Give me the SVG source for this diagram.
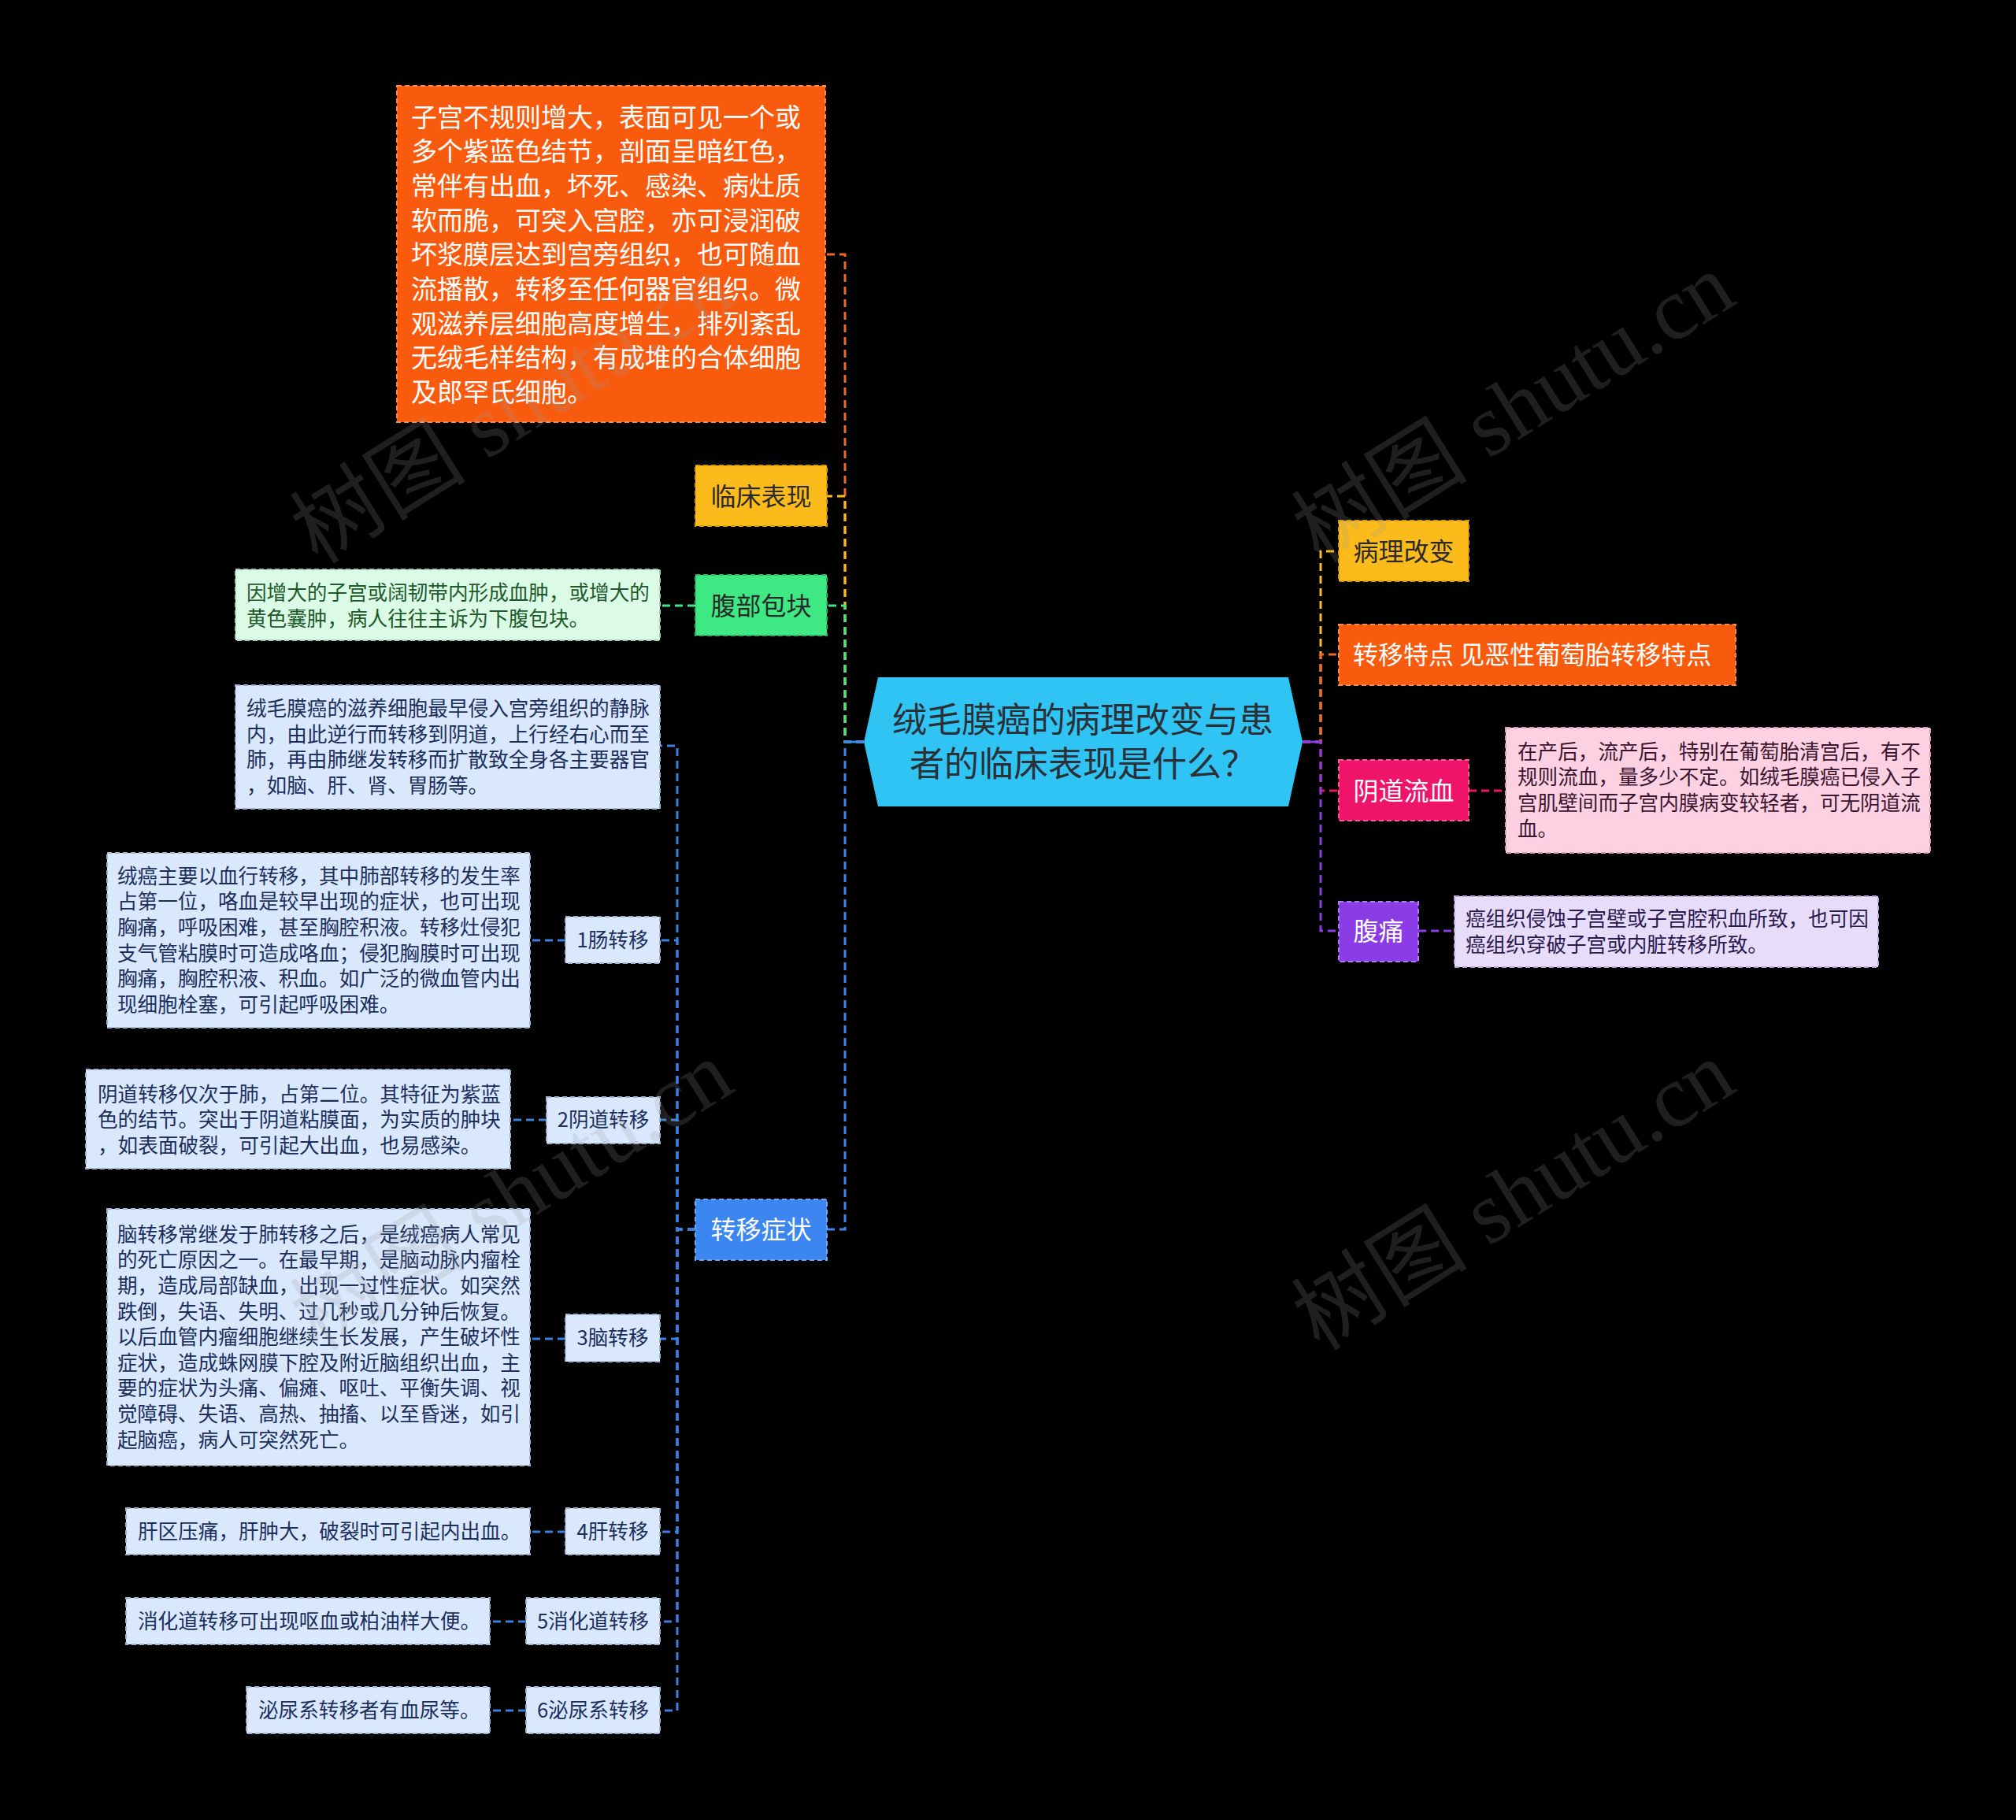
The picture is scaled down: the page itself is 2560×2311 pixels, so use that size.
<svg xmlns="http://www.w3.org/2000/svg" width="2560" height="2311" viewBox="0 0 2560 2311">
<defs>
<style>
text{font-family:"Noto Sans CJK SC","Noto Sans",sans-serif;}
.conn{fill:none;stroke-width:3;stroke-dasharray:10 6;}
.solid{fill:none;stroke-width:3;}
.box{stroke-width:2;stroke-dasharray:6 4;}
.t32{font-size:32px;}
.t26{font-size:25.6px;}
.t33{font-size:33px;fill:#ffffff;}
.center{font-size:44px;fill:#2b2f36;text-anchor:middle;}
.dark{fill:#2a2a2a;}
.white{fill:#ffffff;}
.navy{fill:#1c2f5c;}
.lb{fill:#d9e8fc;stroke:#9fb3cf;}
.wm{font-family:"Liberation Serif","Noto Sans CJK SC",serif;font-size:112px;fill:#9a9a9a;fill-opacity:0.2;text-anchor:middle;}
</style>
</defs>
<rect x="0" y="0" width="2560" height="2311" fill="#000000"/>

<g id="connectors">
  <path class="conn" stroke="#f26522" d="M1097,942 H1073 V323 H1048"/>
  <path class="conn" stroke="#fbbb1a" d="M1097,942 H1073 V630 H1050"/>
  <path class="conn" stroke="#3ee882" d="M1097,942 H1073 V769 H1050"/>
  <path class="conn" stroke="#3b86f0" d="M1097,942 H1073 V1561 H1050"/>
  <path class="solid" stroke="#3b86f0" d="M1073,942 H1097"/>
  <path class="conn" stroke="#3ee882" d="M883,769 H838"/>
  <path class="conn" stroke="#3d7fe0" d="M883,1561 H860 V947 H838"/>
  <path class="conn" stroke="#3d7fe0" d="M883,1561 H860 V1194 H838"/>
  <path class="conn" stroke="#3d7fe0" d="M883,1561 H860 V1422 H838"/>
  <path class="conn" stroke="#3d7fe0" d="M883,1561 H860 V1700 H838"/>
  <path class="conn" stroke="#3d7fe0" d="M883,1561 H860 V1945 H838"/>
  <path class="conn" stroke="#3d7fe0" d="M883,1561 H860 V2059 H838"/>
  <path class="conn" stroke="#3d7fe0" d="M883,1561 H860 V2172 H838"/>
  <path class="conn" stroke="#3d7fe0" d="M718,1194 H673"/>
  <path class="conn" stroke="#3d7fe0" d="M694,1422 H648"/>
  <path class="conn" stroke="#3d7fe0" d="M718,1700 H673"/>
  <path class="conn" stroke="#3d7fe0" d="M718,1945 H673"/>
  <path class="conn" stroke="#3d7fe0" d="M668,2059 H622"/>
  <path class="conn" stroke="#3d7fe0" d="M668,2172 H622"/>
  <path class="conn" stroke="#fbbb1a" d="M1654,942 H1677 V700 H1700"/>
  <path class="conn" stroke="#f26522" d="M1654,942 H1677 V831 H1700"/>
  <path class="conn" stroke="#f0136a" d="M1654,942 H1677 V1004 H1700"/>
  <path class="conn" stroke="#8b3ce6" d="M1654,942 H1677 V1182 H1700"/>
  <path class="solid" stroke="#8b3ce6" d="M1654,942 H1677"/>
  <path class="conn" stroke="#f0136a" d="M1865,1004 H1912"/>
  <path class="conn" stroke="#8b3ce6" d="M1801,1182 H1847"/>
</g>

<g id="center">
  <polygon points="1097,942 1115,860 1636,860 1654,942 1636,1024 1115,1024" fill="#2fc4f3"/>
  <text class="center" x="1375" y="930">绒毛膜癌的病理改变与患</text>
  <text class="center" x="1375" y="986">者的临床表现是什么？</text>
</g>

<g id="node-orange-detail">
  <rect class="box" x="504" y="109" width="544" height="427" fill="#f95b0e" stroke="#ff8a4a"/>
  <text class="t33" x="522" y="160.5">子宫不规则增大，表面可见一个或</text>
  <text class="t33" x="522" y="204.2">多个紫蓝色结节，剖面呈暗红色，</text>
  <text class="t33" x="522" y="247.9">常伴有出血，坏死、感染、病灶质</text>
  <text class="t33" x="522" y="291.6">软而脆，可突入宫腔，亦可浸润破</text>
  <text class="t33" x="522" y="335.3">坏浆膜层达到宫旁组织，也可随血</text>
  <text class="t33" x="522" y="379">流播散，转移至任何器官组织。微</text>
  <text class="t33" x="522" y="422.7">观滋养层细胞高度增生，排列紊乱</text>
  <text class="t33" x="522" y="466.4">无绒毛样结构，有成堆的合体细胞</text>
  <text class="t33" x="522" y="510.1">及郎罕氏细胞。</text>
</g>

<g id="node-linchuang">
  <rect class="box" x="883" y="591" width="167" height="77" fill="#fbbb1a" stroke="#d99a00"/>
  <text class="t32 dark" x="966.5" y="641.5" text-anchor="middle">临床表现</text>
</g>

<g id="node-fubu">
  <rect class="box" x="883" y="730" width="167" height="77" fill="#3ee882" stroke="#22b85e"/>
  <text class="t32 dark" x="966.5" y="780.5" text-anchor="middle">腹部包块</text>
</g>

<g id="node-fubu-detail">
  <rect class="box" x="299" y="723" width="539" height="90" fill="#dcfbe6" stroke="#9cd2ae"/>
  <text class="t26" fill="#1e5a2c" x="313" y="762">因增大的子宫或阔韧带内形成血肿，或增大的</text>
  <text class="t26" fill="#1e5a2c" x="313" y="794.5">黄色囊肿，病人往往主诉为下腹包块。</text>
</g>

<g id="node-zhuanyi">
  <rect class="box" x="883" y="1523" width="167" height="77" fill="#3b86f0" stroke="#6fa6f5"/>
  <text class="t32 white" x="966.5" y="1572.5" text-anchor="middle">转移症状</text>
</g>

<g id="node-zhuanyi-general">
  <rect class="box lb" x="299" y="870" width="539" height="157"/>
  <text class="t26 navy" x="313" y="909">绒毛膜癌的滋养细胞最早侵入宫旁组织的静脉</text>
  <text class="t26 navy" x="313" y="941.5">内，由此逆行而转移到阴道，上行经右心而至</text>
  <text class="t26 navy" x="313" y="974">肺，再由肺继发转移而扩散致全身各主要器官</text>
  <text class="t26 navy" x="313" y="1006.5">，如脑、肝、肾、胃肠等。</text>
</g>

<g id="node-chang">
  <rect class="box lb" x="718" y="1164" width="120" height="59"/>
  <text class="t26 navy" x="778" y="1203.2" text-anchor="middle">1肠转移</text>
</g>
<g id="node-chang-detail">
  <rect class="box lb" x="136" y="1083" width="537" height="222"/>
  <text class="t26 navy" x="149" y="1121.7">绒癌主要以血行转移，其中肺部转移的发生率</text>
  <text class="t26 navy" x="149" y="1154.3">占第一位，咯血是较早出现的症状，也可出现</text>
  <text class="t26 navy" x="149" y="1186.9">胸痛，呼吸困难，甚至胸腔积液。转移灶侵犯</text>
  <text class="t26 navy" x="149" y="1219.5">支气管粘膜时可造成咯血；侵犯胸膜时可出现</text>
  <text class="t26 navy" x="149" y="1252.1">胸痛，胸腔积液、积血。如广泛的微血管内出</text>
  <text class="t26 navy" x="149" y="1284.7">现细胞栓塞，可引起呼吸困难。</text>
</g>

<g id="node-yindao">
  <rect class="box lb" x="694" y="1393" width="144" height="59"/>
  <text class="t26 navy" x="766" y="1431.2" text-anchor="middle">2阴道转移</text>
</g>
<g id="node-yindao-detail">
  <rect class="box lb" x="109" y="1358" width="539" height="126"/>
  <text class="t26 navy" x="124" y="1398.6">阴道转移仅次于肺，占第二位。其特征为紫蓝</text>
  <text class="t26 navy" x="124" y="1431.2">色的结节。突出于阴道粘膜面，为实质的肿块</text>
  <text class="t26 navy" x="124" y="1463.8">，如表面破裂，可引起大出血，也易感染。</text>
</g>

<g id="node-nao">
  <rect class="box lb" x="718" y="1669" width="120" height="60"/>
  <text class="t26 navy" x="778" y="1708.2" text-anchor="middle">3脑转移</text>
</g>
<g id="node-nao-detail">
  <rect class="box lb" x="136" y="1535" width="537" height="326"/>
  <text class="t26 navy" x="149" y="1576.8">脑转移常继发于肺转移之后，是绒癌病人常见</text>
  <text class="t26 navy" x="149" y="1609.4">的死亡原因之一。在最早期，是脑动脉内瘤栓</text>
  <text class="t26 navy" x="149" y="1642">期，造成局部缺血，出现一过性症状。如突然</text>
  <text class="t26 navy" x="149" y="1674.6">跌倒，失语、失明、过几秒或几分钟后恢复。</text>
  <text class="t26 navy" x="149" y="1707.2">以后血管内瘤细胞继续生长发展，产生破坏性</text>
  <text class="t26 navy" x="149" y="1739.8">症状，造成蛛网膜下腔及附近脑组织出血，主</text>
  <text class="t26 navy" x="149" y="1772.4">要的症状为头痛、偏瘫、呕吐、平衡失调、视</text>
  <text class="t26 navy" x="149" y="1805">觉障碍、失语、高热、抽搐、以至昏迷，如引</text>
  <text class="t26 navy" x="149" y="1837.6">起脑癌，病人可突然死亡。</text>
</g>

<g id="node-gan">
  <rect class="box lb" x="718" y="1915" width="120" height="59"/>
  <text class="t26 navy" x="778" y="1954.2" text-anchor="middle">4肝转移</text>
</g>
<g id="node-gan-detail">
  <rect class="box lb" x="160" y="1915" width="513" height="59"/>
  <text class="t26 navy" x="175" y="1954.2">肝区压痛，肝肿大，破裂时可引起内出血。</text>
</g>

<g id="node-xiaohua">
  <rect class="box lb" x="668" y="2029" width="170" height="59"/>
  <text class="t26 navy" x="753" y="2068.2" text-anchor="middle">5消化道转移</text>
</g>
<g id="node-xiaohua-detail">
  <rect class="box lb" x="160" y="2029" width="462" height="59"/>
  <text class="t26 navy" x="175" y="2068.2">消化道转移可出现呕血或柏油样大便。</text>
</g>

<g id="node-miniao">
  <rect class="box lb" x="668" y="2142" width="170" height="59"/>
  <text class="t26 navy" x="753" y="2181.2" text-anchor="middle">6泌尿系转移</text>
</g>
<g id="node-miniao-detail">
  <rect class="box lb" x="313" y="2142" width="309" height="59"/>
  <text class="t26 navy" x="328" y="2181.2">泌尿系转移者有血尿等。</text>
</g>

<g id="node-bingli">
  <rect class="box" x="1700" y="661" width="165" height="77" fill="#fbbb1a" stroke="#d99a00"/>
  <text class="t32 dark" x="1782.5" y="711.5" text-anchor="middle">病理改变</text>
</g>

<g id="node-tedian">
  <rect class="box" x="1700" y="793" width="504" height="77" fill="#f95b0e" stroke="#ff8a4a"/>
  <text class="t32 white" x="1718" y="842.5">转移特点 见恶性葡萄胎转移特点</text>
</g>

<g id="node-liuxue">
  <rect class="box" x="1700" y="965" width="165" height="77" fill="#f0136a" stroke="#ff5a98"/>
  <text class="t32 white" x="1782.5" y="1015.5" text-anchor="middle">阴道流血</text>
</g>
<g id="node-liuxue-detail">
  <rect class="box" x="1912" y="924" width="539" height="159" fill="#fdd0e2" stroke="#e09ab8"/>
  <text class="t26" fill="#3a1530" x="1927" y="963.8">在产后，流产后，特别在葡萄胎清宫后，有不</text>
  <text class="t26" fill="#3a1530" x="1927" y="996.4">规则流血，量多少不定。如绒毛膜癌已侵入子</text>
  <text class="t26" fill="#3a1530" x="1927" y="1029">宫肌壁间而子宫内膜病变较轻者，可无阴道流</text>
  <text class="t26" fill="#3a1530" x="1927" y="1061.6">血。</text>
</g>

<g id="node-futong">
  <rect class="box" x="1700" y="1145" width="101" height="76" fill="#8b3ce6" stroke="#b07cf0"/>
  <text class="t32 white" x="1750.5" y="1194" text-anchor="middle">腹痛</text>
</g>
<g id="node-futong-detail">
  <rect class="box" x="1847" y="1138" width="538" height="90" fill="#e7dcf9" stroke="#b7a5dc"/>
  <text class="t26" fill="#2b1a4f" x="1861" y="1175.9">癌组织侵蚀子宫壁或子宫腔积血所致，也可因</text>
  <text class="t26" fill="#2b1a4f" x="1861" y="1208.5">癌组织穿破子宫或内脏转移所致。</text>
</g>

<g id="watermarks">
  <text class="wm" transform="translate(650,519) rotate(-32)" y="38">树图 shutu.cn</text>
  <text class="wm" transform="translate(1922,518) rotate(-32)" y="38">树图 shutu.cn</text>
  <text class="wm" transform="translate(650,1518) rotate(-32)" y="38">树图 shutu.cn</text>
  <text class="wm" transform="translate(1922,1518) rotate(-32)" y="38">树图 shutu.cn</text>
</g>
</svg>
